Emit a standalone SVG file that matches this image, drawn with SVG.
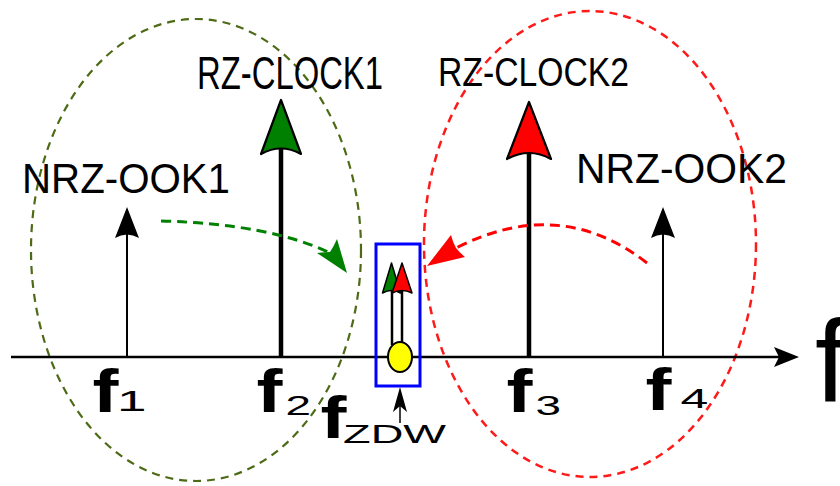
<svg xmlns="http://www.w3.org/2000/svg" width="840" height="486" viewBox="0 0 840 486">
<style>
.lbl{font-family:"Liberation Sans",Arial,sans-serif;fill:#000}
.fb{font-family:"Liberation Sans",Arial,sans-serif;font-weight:bold;fill:#000}
.sub{font-family:"Liberation Sans",Arial,sans-serif;fill:#000}
.ax{stroke:#000;fill:none}
</style>
<rect width="840" height="486" fill="#fff"/>
<g id="groups">
<ellipse id="group1" cx="196" cy="250" rx="165" ry="231" fill="none" stroke="#4d6b16" stroke-width="2.2" stroke-dasharray="8,6"/>
<ellipse id="group2" cx="590" cy="244" rx="166" ry="233" fill="none" stroke="#ff1a1a" stroke-width="2.5" stroke-dasharray="8,6"/>
</g>
<g id="axis">
<line x1="11" y1="357" x2="780" y2="357" stroke="#000" stroke-width="2.5"/>
<path d="M799,357 L774,347 L779,357 L774,367 Z" fill="#000"/>
<text class="lbl" x="815" y="402" font-size="116">f</text>
</g>
<g id="f1">
<line x1="127" y1="234" x2="127" y2="357" stroke="#000" stroke-width="2"/>
<path d="M127,207 L139,238 Q127,231 115,238 Z" fill="#000"/>
<text class="fb" x="92.5" y="412" font-size="62" textLength="26" lengthAdjust="spacingAndGlyphs">f</text>
<text class="sub" x="117" y="411" font-size="29" textLength="29.5" lengthAdjust="spacingAndGlyphs">1</text>
<text class="lbl" x="22" y="193" font-size="43" textLength="208" lengthAdjust="spacingAndGlyphs">NRZ-OOK1</text>
</g>
<g id="f2">
<line x1="281" y1="148" x2="281" y2="357" stroke="#000" stroke-width="4.5"/>
<path d="M281,100 L301,154 Q281,143 261,154 Z" fill="#008000" stroke="#000" stroke-width="2.2" stroke-linejoin="round"/>
<text class="fb" x="256.5" y="412" font-size="62" textLength="26" lengthAdjust="spacingAndGlyphs">f</text>
<text class="sub" x="285.5" y="415" font-size="28" textLength="25.5" lengthAdjust="spacingAndGlyphs">2</text>
<text class="lbl" x="197" y="89" font-size="47" textLength="186" lengthAdjust="spacingAndGlyphs">RZ-CLOCK1</text>
</g>
<g id="f3">
<line x1="529" y1="150" x2="529" y2="357" stroke="#000" stroke-width="4.5"/>
<path d="M529,102 L551,159 Q529,147 507,159 Z" fill="#ff0000" stroke="#000" stroke-width="2.2" stroke-linejoin="round"/>
<text class="fb" x="506.5" y="412" font-size="62" textLength="26" lengthAdjust="spacingAndGlyphs">f</text>
<text class="sub" x="535.5" y="415" font-size="28" textLength="25.5" lengthAdjust="spacingAndGlyphs">3</text>
<text class="lbl" x="438" y="86" font-size="41" textLength="191" lengthAdjust="spacingAndGlyphs">RZ-CLOCK2</text>
</g>
<g id="f4">
<line x1="663" y1="234" x2="663" y2="357" stroke="#000" stroke-width="2"/>
<path d="M663,207 L675,238 Q663,231 651,238 Z" fill="#000"/>
<text class="fb" x="645.5" y="410" font-size="60" textLength="26" lengthAdjust="spacingAndGlyphs">f</text>
<text class="sub" x="680.5" y="408" font-size="27" textLength="27.8" lengthAdjust="spacingAndGlyphs">4</text>
<text class="lbl" x="576" y="183" font-size="43" textLength="211" lengthAdjust="spacingAndGlyphs">NRZ-OOK2</text>
</g>
<g id="fzdw">
<line x1="392" y1="290" x2="392" y2="345" stroke="#000" stroke-width="2.5"/>
<line x1="402" y1="290" x2="402" y2="345" stroke="#000" stroke-width="2.5"/>
<path d="M391.5,263 L400.5,293 Q391.5,288 382.5,293 Z" fill="#008000" stroke="#000" stroke-width="1.5" stroke-linejoin="round"/>
<path d="M402,263 L412,293 Q402,288 392,293 Z" fill="#ff0000" stroke="#000" stroke-width="1.5" stroke-linejoin="round"/>
<ellipse cx="400" cy="357" rx="12" ry="15" fill="#ffff00" stroke="#000" stroke-width="2"/>
<rect x="376" y="244" width="44" height="142" fill="none" stroke="#0000ff" stroke-width="3"/>
<line x1="400" y1="404" x2="400" y2="423" stroke="#000" stroke-width="1.5"/>
<path d="M400,387 L407,412 L400,406 L393,412 Z" fill="#000"/>
<text class="fb" x="320.5" y="438" font-size="59" textLength="26" lengthAdjust="spacingAndGlyphs">f</text>
<text class="sub" x="343" y="443" font-size="25" textLength="103" lengthAdjust="spacingAndGlyphs">ZDW</text>
</g>
<g id="connectors">
<path d="M161,221 Q270,224 330,253" fill="none" stroke="#008000" stroke-width="3" stroke-dasharray="10,6"/>
<path d="M347,273 L317,253 Q327,252 330,252 Q334,246 337,239 Z" fill="#008000"/>
<path d="M647,263 Q560,195 456,248" fill="none" stroke="#ff0000" stroke-width="3" stroke-dasharray="10,6"/>
<path d="M427,266 L451,235 Q453,243 456,248 Q460,253 465,257 Z" fill="#ff0000"/>
</g>
</svg>
